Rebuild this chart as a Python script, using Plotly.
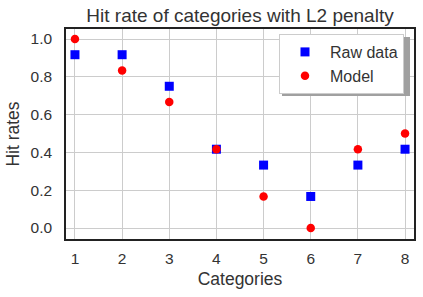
import plotly.graph_objects as go

categories = [1, 2, 3, 4, 5, 6, 7, 8]
raw_data = [0.917, 0.917, 0.75, 0.417, 0.333, 0.167, 0.333, 0.417]
model = [1.0, 0.833, 0.667, 0.417, 0.167, 0.0, 0.417, 0.5]
y_ticks = [0.0, 0.2, 0.4, 0.6, 0.8, 1.0]

font_family = "Liberation Sans, Arial, sans-serif"
text_color = "#333333"

L, R, T, B = 66, 9, 29, 58
W, H = 423, 297
pw, ph = W - L - R, H - T - B


def px_x(x):
    return (x - L) / pw


def px_y(y):
    return (H - B - y) / ph


fig = go.Figure()
fig.add_trace(go.Scatter(
    x=categories, y=raw_data, mode="markers", name="Raw data",
    marker=dict(symbol="square", size=9, color="#0000ff", line=dict(width=0)),
))
fig.add_trace(go.Scatter(
    x=categories, y=model, mode="markers", name="Model",
    marker=dict(symbol="circle", size=8.5, color="#ff0000", line=dict(width=0)),
))

# legend shadow
fig.add_shape(type="rect", xref="paper", yref="paper",
              x0=px_x(282), x1=px_x(410), y0=px_y(96), y1=px_y(37),
              fillcolor="#a0a0a0", line=dict(width=0), layer="above")

fig.update_layout(
    width=W, height=H,
    margin=dict(l=L, r=R, t=T, b=B, autoexpand=False),
    paper_bgcolor="white", plot_bgcolor="white",
    font=dict(family=font_family, color=text_color, size=15.5),
    title=dict(text="Hit rate of categories with L2 penalty", x=240 / W, xanchor="center",
               y=1 - 15 / H, yanchor="middle", font=dict(size=19, color=text_color)),
    showlegend=True,
    legend=dict(x=px_x(279), y=px_y(34), xanchor="left", yanchor="top",
                bgcolor="white", bordercolor="#cccccc", borderwidth=1,
                font=dict(size=16, color=text_color), itemwidth=40,
                tracegroupgap=0),
    xaxis=dict(range=[0.81, 8.19], tickvals=categories, showgrid=True,
               gridcolor="#cccccc", gridwidth=1, zeroline=False, automargin=False,
               showline=True, linecolor="#222222", linewidth=1.5, mirror=True,
               ticks="", tickfont=dict(size=15.5), ticklabelstandoff=5,
               title=dict(text="Categories", font=dict(size=17.5), standoff=6)),
    yaxis=dict(range=[-0.058, 1.053], tickvals=y_ticks, tickformat=".1f", showgrid=True,
               gridcolor="#cccccc", gridwidth=1, zeroline=False, automargin=False,
               showline=True, linecolor="#222222", linewidth=1.5, mirror=True,
               ticks="", tickfont=dict(size=15.5), ticklabelstandoff=9,
               title=dict(text="Hit rates", font=dict(size=17.5), standoff=6)),
)

fig.write_html("out.html", config={"displayModeBar": False},
               post_script="document.body.style.margin='0';")
